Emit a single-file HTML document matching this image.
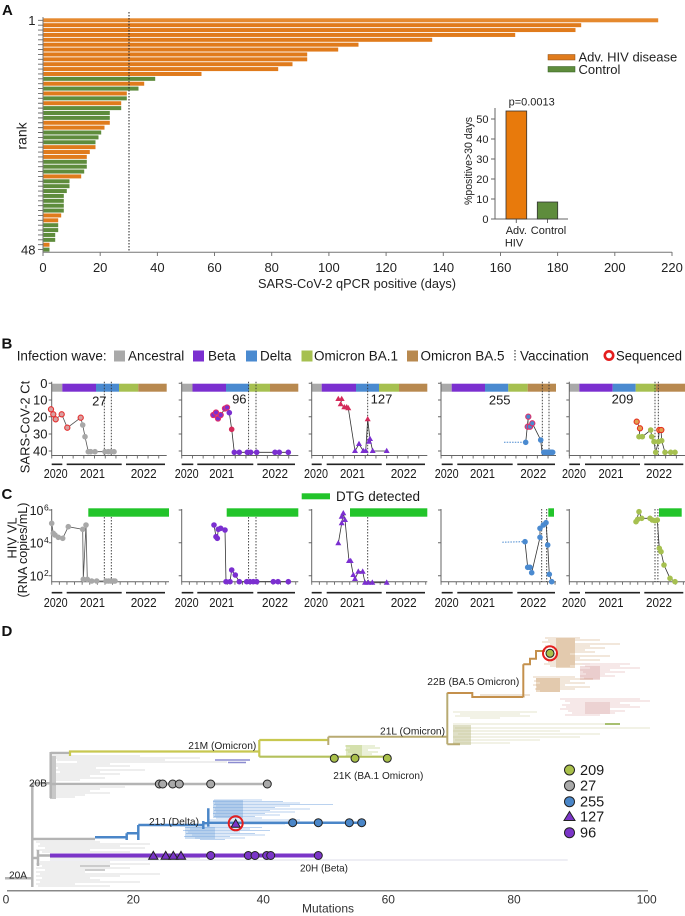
<!DOCTYPE html>
<html><head><meta charset="utf-8">
<style>
html,body{margin:0;padding:0;background:#fff;}
svg{display:block;font-family:"Liberation Sans",Arial,sans-serif;}
</style></head><body>
<svg width="685" height="916" viewBox="0 0 685 916" xmlns="http://www.w3.org/2000/svg">
<defs>
<path id="tri" d="M0 -3.3L3 2H-3Z"/>
<path id="tri2" d="M0 -4.6L4.6 3.2H-4.6Z"/>
</defs>
<rect width="685" height="916" fill="#fff"/>

<!-- ================= PANEL A ================= -->
<text x="2" y="15" font-size="15" font-weight="bold" fill="#111">A</text>
<g>
<rect x="43.5" y="18.3" width="614.7" height="4" fill="#E5892E"/>
<rect x="43.5" y="23.18" width="537.7" height="4" fill="#E07B1C"/>
<rect x="43.5" y="28.06" width="532" height="4" fill="#E07B1C"/>
<rect x="43.5" y="32.94" width="471.7" height="4" fill="#E07B1C"/>
<rect x="43.5" y="37.81" width="388.7" height="4" fill="#E07B1C"/>
<rect x="43.5" y="42.69" width="315" height="4" fill="#E07B1C"/>
<rect x="43.5" y="47.57" width="294.7" height="4" fill="#E07B1C"/>
<rect x="43.5" y="52.45" width="263.7" height="4" fill="#E07B1C"/>
<rect x="43.5" y="57.33" width="263.7" height="4" fill="#E07B1C"/>
<rect x="43.5" y="62.21" width="249" height="4" fill="#E07B1C"/>
<rect x="43.5" y="67.09" width="234.7" height="4" fill="#E07B1C"/>
<rect x="43.5" y="71.97" width="158" height="4" fill="#E07B1C"/>
<rect x="43.5" y="76.84" width="111.7" height="4" fill="#5E8C3C"/>
<rect x="43.5" y="81.72" width="100.7" height="4" fill="#E07B1C"/>
<rect x="43.5" y="86.6" width="95" height="4" fill="#5E8C3C"/>
<rect x="43.5" y="91.48" width="83.3" height="4" fill="#E07B1C"/>
<rect x="43.5" y="96.36" width="83.3" height="4" fill="#5E8C3C"/>
<rect x="43.5" y="101.24" width="77.7" height="4" fill="#E07B1C"/>
<rect x="43.5" y="106.12" width="77.7" height="4" fill="#5E8C3C"/>
<rect x="43.5" y="111" width="66.3" height="4" fill="#5E8C3C"/>
<rect x="43.5" y="115.87" width="66.3" height="4" fill="#5E8C3C"/>
<rect x="43.5" y="120.75" width="66.3" height="4" fill="#E07B1C"/>
<rect x="43.5" y="125.63" width="61" height="4" fill="#E07B1C"/>
<rect x="43.5" y="130.51" width="57.7" height="4" fill="#5E8C3C"/>
<rect x="43.5" y="135.39" width="55" height="4" fill="#5E8C3C"/>
<rect x="43.5" y="140.27" width="52" height="4" fill="#5E8C3C"/>
<rect x="43.5" y="145.15" width="52" height="4" fill="#E07B1C"/>
<rect x="43.5" y="150.03" width="46.3" height="4" fill="#E07B1C"/>
<rect x="43.5" y="154.9" width="43.3" height="4" fill="#E07B1C"/>
<rect x="43.5" y="159.78" width="43.3" height="4" fill="#5E8C3C"/>
<rect x="43.5" y="164.66" width="43.3" height="4" fill="#5E8C3C"/>
<rect x="43.5" y="169.54" width="40.7" height="4" fill="#5E8C3C"/>
<rect x="43.5" y="174.42" width="37.7" height="4" fill="#E07B1C"/>
<rect x="43.5" y="179.3" width="26" height="4" fill="#5E8C3C"/>
<rect x="43.5" y="184.18" width="26" height="4" fill="#5E8C3C"/>
<rect x="43.5" y="189.06" width="23.3" height="4" fill="#5E8C3C"/>
<rect x="43.5" y="193.93" width="20.3" height="4" fill="#5E8C3C"/>
<rect x="43.5" y="198.81" width="20.3" height="4" fill="#5E8C3C"/>
<rect x="43.5" y="203.69" width="20.3" height="4" fill="#5E8C3C"/>
<rect x="43.5" y="208.57" width="20.3" height="4" fill="#5E8C3C"/>
<rect x="43.5" y="213.45" width="17.7" height="4" fill="#E07B1C"/>
<rect x="43.5" y="218.33" width="14.7" height="4" fill="#E07B1C"/>
<rect x="43.5" y="223.21" width="14.7" height="4" fill="#5E8C3C"/>
<rect x="43.5" y="228.09" width="14.7" height="4" fill="#5E8C3C"/>
<rect x="43.5" y="232.96" width="11.7" height="4" fill="#5E8C3C"/>
<rect x="43.5" y="237.84" width="11.7" height="4" fill="#5E8C3C"/>
<rect x="43.5" y="242.72" width="6" height="4" fill="#E07B1C"/>
<rect x="43.5" y="247.6" width="6" height="4" fill="#5E8C3C"/>
</g>
<!-- axes A -->
<line x1="43" y1="17" x2="43" y2="252.3" stroke="#777" stroke-width="1"/>
<line x1="40.5" y1="19.85" x2="40.5" y2="250.2" stroke="#666" stroke-width="5" stroke-dasharray="0.9 3.9787"/>
<line x1="43" y1="252.3" x2="672" y2="252.3" stroke="#777" stroke-width="1"/>
<path d="M43 252V256M100.2 252V256M157.4 252V256M214.5 252V256M271.7 252V256M328.9 252V256M386.1 252V256M443.3 252V256M500.5 252V256M557.6 252V256M614.8 252V256M672 252V256" stroke="#777" stroke-width="1"/>
<line x1="129" y1="12" x2="129" y2="252" stroke="#222" stroke-width="1" stroke-dasharray="1.5 1.5"/>
<g font-size="13" fill="#222" text-anchor="middle">
<text x="43" y="272">0</text><text x="100.2" y="272">20</text><text x="157.4" y="272">40</text><text x="214.5" y="272">60</text><text x="271.7" y="272">80</text><text x="328.9" y="272">100</text><text x="386.1" y="272">120</text><text x="443.3" y="272">140</text><text x="500.5" y="272">160</text><text x="557.6" y="272">180</text><text x="614.8" y="272">200</text><text x="672" y="272">220</text>
</g>
<text x="357" y="288" font-size="13" fill="#222" text-anchor="middle" textLength="198" lengthAdjust="spacingAndGlyphs">SARS-CoV-2 qPCR positive (days)</text>
<text x="35.5" y="25" font-size="13" fill="#222" text-anchor="end">1</text>
<text x="35.5" y="254.4" font-size="13" fill="#222" text-anchor="end">48</text>
<text transform="translate(26.7,136) rotate(-90)" font-size="14" fill="#222" text-anchor="middle">rank</text>
<!-- legend A -->
<rect x="548" y="54.5" width="27" height="5.5" fill="#E07B1C" stroke="#8a4a10" stroke-width="0.5"/>
<rect x="548" y="66.5" width="27" height="5.5" fill="#5E8C3C" stroke="#2f5a1e" stroke-width="0.5"/>
<text x="578.5" y="61.4" font-size="13" fill="#222">Adv. HIV disease</text>
<text x="578.5" y="74" font-size="13" fill="#222">Control</text>
<!-- inset -->
<line x1="495" y1="108" x2="495" y2="219" stroke="#666" stroke-width="1"/>
<line x1="491" y1="219" x2="568" y2="219" stroke="#666" stroke-width="1"/>
<path d="M491 219H495M491 199H495M491 179H495M491 159H495M491 139H495M491 119H495M516.3 219V223M547.5 219V223" stroke="#666" stroke-width="1"/>
<g font-size="11" fill="#222" text-anchor="end">
<text x="488.5" y="223">0</text><text x="488.5" y="203">10</text><text x="488.5" y="183">20</text><text x="488.5" y="163">30</text><text x="488.5" y="143">40</text><text x="488.5" y="123">50</text>
</g>
<rect x="506" y="111" width="20.7" height="108" fill="#E87A0C" stroke="#333" stroke-width="0.8"/>
<rect x="537.3" y="202" width="20.4" height="17" fill="#5E8C3C" stroke="#333" stroke-width="0.8"/>
<g font-size="11" fill="#222" text-anchor="middle">
<text x="531.7" y="105.5">p=0.0013</text>
<text x="516.3" y="234">Adv.</text>
<text x="514" y="246.5">HIV</text>
<text x="548.5" y="234">Control</text>
</g>
<text transform="translate(472,161) rotate(-90)" font-size="11" fill="#222" text-anchor="middle" textLength="88" lengthAdjust="spacingAndGlyphs">%positive&gt;30 days</text>

<!-- ================= PANEL B ================= -->
<text x="1.5" y="348.5" font-size="15" font-weight="bold" fill="#111">B</text>
<g font-size="13.5" fill="#1a1a1a">
<text x="16.7" y="360.5" textLength="90" lengthAdjust="spacingAndGlyphs">Infection wave:</text>
<rect x="114" y="350.5" width="11" height="11" fill="#A9A9A9"/>
<text x="128" y="360.5">Ancestral</text>
<rect x="193" y="350.5" width="11" height="11" fill="#7B2FD0"/>
<text x="208" y="360.5">Beta</text>
<rect x="246" y="350.5" width="11" height="11" fill="#4A8AD0"/>
<text x="260" y="360.5">Delta</text>
<rect x="301.5" y="350.5" width="11" height="11" fill="#A6C050"/>
<text x="314" y="360.5">Omicron BA.1</text>
<rect x="407" y="350.5" width="11" height="11" fill="#B8894F"/>
<text x="420.5" y="360.5">Omicron BA.5</text>
<line x1="515" y1="350" x2="515" y2="362" stroke="#222" stroke-width="1" stroke-dasharray="1.5 1.5"/>
<text x="520" y="360.5">Vaccination</text>
<circle cx="609" cy="355.5" r="4.2" fill="#fff" stroke="#E41E1E" stroke-width="2.6"/>
<text x="616" y="360.5" textLength="66" lengthAdjust="spacingAndGlyphs">Sequenced</text>
</g>
<text transform="translate(29.5,427) rotate(-90)" font-size="13" fill="#1a1a1a" text-anchor="middle">SARS-CoV-2 Ct</text>

<!-- wave bars -->
<g>
<rect x="51.7" y="383.7" width="10.6" height="8" fill="#A9A9A9"/><rect x="62.3" y="383.7" width="33.7" height="8" fill="#7B2FD0"/><rect x="96" y="383.7" width="23" height="8" fill="#4A8AD0"/><rect x="119" y="383.7" width="19.3" height="8" fill="#A6C050"/><rect x="138.3" y="383.7" width="28.4" height="8" fill="#B8894F"/>
<rect x="181.7" y="383.7" width="10.8" height="8" fill="#A9A9A9"/><rect x="192.5" y="383.7" width="33.5" height="8" fill="#7B2FD0"/><rect x="226" y="383.7" width="23.3" height="8" fill="#4A8AD0"/><rect x="249.3" y="383.7" width="20.7" height="8" fill="#A6C050"/><rect x="270" y="383.7" width="28.3" height="8" fill="#B8894F"/>
<rect x="311.7" y="383.7" width="10" height="8" fill="#A9A9A9"/><rect x="321.7" y="383.7" width="34.3" height="8" fill="#7B2FD0"/><rect x="356" y="383.7" width="23" height="8" fill="#4A8AD0"/><rect x="379" y="383.7" width="20" height="8" fill="#A6C050"/><rect x="399" y="383.7" width="28.3" height="8" fill="#B8894F"/>
<rect x="441" y="383.7" width="10.7" height="8" fill="#A9A9A9"/><rect x="451.7" y="383.7" width="33.3" height="8" fill="#7B2FD0"/><rect x="485" y="383.7" width="23.3" height="8" fill="#4A8AD0"/><rect x="508.3" y="383.7" width="19.4" height="8" fill="#A6C050"/><rect x="527.7" y="383.7" width="28.3" height="8" fill="#B8894F"/>
<rect x="569.3" y="383.7" width="10" height="8" fill="#A9A9A9"/><rect x="579.3" y="383.7" width="33.4" height="8" fill="#7B2FD0"/><rect x="612.7" y="383.7" width="23" height="8" fill="#4A8AD0"/><rect x="635.7" y="383.7" width="20.3" height="8" fill="#A6C050"/><rect x="656" y="383.7" width="29" height="8" fill="#B8894F"/>
</g>
<!-- B axes -->
<g stroke="#666" stroke-width="1" fill="none">
<path d="M51.7 381.7V455.5H166.7M48.7 383.3H51.7M48.7 400H51.7M48.7 416.7H51.7M48.7 434H51.7M48.7 451H51.7"/>
<path d="M181.7 381.7V455.5H298.3M178.7 383.3H181.7M178.7 400H181.7M178.7 416.7H181.7M178.7 434H181.7M178.7 451H181.7"/>
<path d="M311.7 381.7V455.5H427.3M308.7 383.3H311.7M308.7 400H311.7M308.7 416.7H311.7M308.7 434H311.7M308.7 451H311.7"/>
<path d="M441 381.7V455.5H556M438 383.3H441M438 400H441M438 416.7H441M438 434H441M438 451H441"/>
<path d="M569.3 381.7V455.5H685M566.3 383.3H569.3M566.3 400H569.3M566.3 416.7H569.3M566.3 434H569.3M566.3 451H569.3"/>
</g>
<g stroke="#666" stroke-width="3" stroke-dasharray="0.9 9.8">
<line x1="51.3" y1="457" x2="167" y2="457"/>
<line x1="181.3" y1="457" x2="298.5" y2="457"/>
<line x1="311.3" y1="457" x2="427.5" y2="457"/>
<line x1="440.6" y1="457" x2="556.2" y2="457"/>
<line x1="568.9" y1="457" x2="685" y2="457"/>
</g>
<g font-size="13" fill="#1a1a1a" text-anchor="end">
<text x="47.5" y="388">0</text><text x="47.5" y="404.7">10</text><text x="47.5" y="421.4">20</text><text x="47.5" y="438.7">30</text><text x="47.5" y="455.7">40</text>
</g>
<!-- year bars B -->
<g stroke="#222" stroke-width="1.6">
<path d="M51.7 464.3H62.3M66.7 464.3H121.7M126 464.3H165M181.7 464.3H193.3M197.3 464.3H253.3M257.3 464.3H295M311.7 464.3H321.7M326.7 464.3H381.7M386 464.3H425M441.7 464.3H452.7M457.3 464.3H512.7M517.3 464.3H555M569.3 464.3H580M585 464.3H640M644.3 464.3H683.3"/>
</g>
<g font-size="12.5" fill="#1a1a1a" text-anchor="middle">
<text x="55.7" y="478" textLength="24" lengthAdjust="spacingAndGlyphs">2020</text><text x="92.5" y="478" textLength="25" lengthAdjust="spacingAndGlyphs">2021</text><text x="143.7" y="478" textLength="26" lengthAdjust="spacingAndGlyphs">2022</text>
<text x="186.7" y="478" textLength="24" lengthAdjust="spacingAndGlyphs">2020</text><text x="221.7" y="478" textLength="25" lengthAdjust="spacingAndGlyphs">2021</text><text x="275" y="478" textLength="26" lengthAdjust="spacingAndGlyphs">2022</text>
<text x="316" y="478" textLength="24" lengthAdjust="spacingAndGlyphs">2020</text><text x="352.5" y="478" textLength="25" lengthAdjust="spacingAndGlyphs">2021</text><text x="403.7" y="478" textLength="26" lengthAdjust="spacingAndGlyphs">2022</text>
<text x="446.7" y="478" textLength="24" lengthAdjust="spacingAndGlyphs">2020</text><text x="482.5" y="478" textLength="25" lengthAdjust="spacingAndGlyphs">2021</text><text x="533.3" y="478" textLength="26" lengthAdjust="spacingAndGlyphs">2022</text>
<text x="574" y="478" textLength="24" lengthAdjust="spacingAndGlyphs">2020</text><text x="611" y="478" textLength="25" lengthAdjust="spacingAndGlyphs">2021</text><text x="659" y="478" textLength="26" lengthAdjust="spacingAndGlyphs">2022</text>
</g>
<!-- vaccine lines B -->
<g stroke="#333" stroke-width="0.9" stroke-dasharray="1.5 1.5">
<path d="M104.3 381.7V455.5M111.3 381.7V455.5M248.6 381.7V455.5M256 381.7V455.5M367.7 381.7V455.5M542.3 381.7V455.5M549 381.7V455.5M655 381.7V455.5M658.3 381.7V455.5"/>
</g>
<g font-size="13" fill="#1a1a1a" text-anchor="middle">
<text x="99.3" y="405.7">27</text><text x="239.3" y="403.3">96</text><text x="381.5" y="403.3">127</text><text x="499.7" y="404.3">255</text><text x="622.5" y="403.3">209</text>
</g>
<!-- B P1 data -->
<path d="M51 409.3L53.3 414.3L55.7 419.3L61.7 414.3L67.3 427.7L80.7 417.7L82.7 425L85 436.7L88.3 451.7H114" fill="none" stroke="#555" stroke-width="0.8"/>
<g fill="#A8A8A8">
<circle cx="82.7" cy="425" r="2.8"/><circle cx="85" cy="436.7" r="2.8"/><circle cx="88.3" cy="451.7" r="2.8"/><circle cx="90.7" cy="451.7" r="2.8"/><circle cx="95" cy="451.7" r="2.8"/><circle cx="105" cy="451.7" r="2.8"/><circle cx="108.3" cy="451.7" r="2.8"/><circle cx="111" cy="451.7" r="2.8"/><circle cx="114" cy="451.7" r="2.8"/>
</g>
<g fill="#D9A0A0" stroke="#E53030" stroke-width="1.1">
<circle cx="51" cy="409.3" r="2.6"/><circle cx="53.3" cy="414.3" r="2.6"/><circle cx="55.7" cy="419.3" r="2.6"/><circle cx="61.7" cy="414.3" r="2.6"/><circle cx="67.3" cy="427.7" r="2.6"/><circle cx="80.7" cy="417.7" r="2.6"/>
</g>
<!-- B P2 -->
<path d="M213.3 415L216 412.5L218 418.5L220.7 415L225 408.5L227 407.5L229.3 412.7L231.7 429.3L234.3 452.3H288.3" fill="none" stroke="#333" stroke-width="0.8"/>
<g fill="#7B2FD0">
<circle cx="229.3" cy="412.7" r="2.8"/><circle cx="234.3" cy="452.3" r="2.8"/><circle cx="239.3" cy="452.3" r="2.8"/><circle cx="247.3" cy="452.3" r="2.8"/><circle cx="250.7" cy="452.3" r="2.8"/><circle cx="256.7" cy="452.3" r="2.8"/><circle cx="275" cy="452.3" r="2.8"/><circle cx="279.3" cy="452.3" r="2.8"/><circle cx="288.3" cy="452.3" r="2.8"/>
</g>
<circle cx="231.7" cy="429.3" r="2.8" fill="#D42A5A"/>
<g fill="#7B2FD0" stroke="#E0306A" stroke-width="1.1">
<circle cx="213.3" cy="415" r="2.6"/><circle cx="216" cy="412.5" r="2.6"/><circle cx="218" cy="418.5" r="2.6"/><circle cx="220.7" cy="415" r="2.6"/><circle cx="225" cy="408.5" r="2.6"/><circle cx="227" cy="407.5" r="2.6"/>
</g>
<!-- B P3 -->
<path d="M338.3 399L341.7 399L340.7 404.3L344.3 407.3L348.3 408.3L355 451L359 444L363.3 451L365.7 451L367.7 419.3L370 439L372.7 451H386.7" fill="none" stroke="#333" stroke-width="0.8"/>
<g fill="#D42A5A">
<use href="#tri" x="338.3" y="399"/><use href="#tri" x="341.7" y="399"/><use href="#tri" x="340.7" y="404.3"/><use href="#tri" x="344.3" y="407.3"/><use href="#tri" x="346.7" y="407.3"/><use href="#tri" x="348.3" y="408.3"/><use href="#tri" x="367.7" y="419.3"/>
</g>
<g fill="#7B2FD0">
<use href="#tri" x="355" y="451"/><use href="#tri" x="359" y="444"/><use href="#tri" x="363.3" y="451"/><use href="#tri" x="365.7" y="451"/><use href="#tri" x="370" y="439"/><use href="#tri" x="369" y="441.7"/><use href="#tri" x="372.7" y="451"/><use href="#tri" x="386.7" y="451"/>
</g>
<!-- B P4 -->
<line x1="504" y1="442.3" x2="525.7" y2="442.3" stroke="#4A8AD0" stroke-width="1" stroke-dasharray="1.5 1.2"/>
<path d="M525.7 442.3L528.3 416.7L527.7 426.7L530 426.7L532.3 423.3L540.7 440L542 452.3H555" fill="none" stroke="#333" stroke-width="0.8"/>
<g fill="#4A8AD0">
<circle cx="525.7" cy="442.3" r="2.8"/><circle cx="540.7" cy="440" r="2.8"/>
<rect x="541" y="449.5" width="14.5" height="5.6" rx="2.8"/>
</g>
<g fill="#4A8AD0" stroke="#E0306A" stroke-width="1.1">
<circle cx="527.7" cy="426.7" r="2.6"/><circle cx="530" cy="426.7" r="2.6"/><circle cx="532.3" cy="423.3" r="2.6"/><circle cx="528.3" cy="416.7" r="2.6"/>
</g>
<!-- B P5 -->
<path d="M636.7 421.7L640 428.3L639 436.7L642.3 436.7L650.7 430L651.7 436.7L654 441.7L655.7 452.3L658.3 441.7L659.3 430L661 430L661.7 440.7L665 452.3H675" fill="none" stroke="#333" stroke-width="0.8"/>
<g fill="#A6C050">
<circle cx="639" cy="436.7" r="2.8"/><circle cx="642.3" cy="436.7" r="2.8"/><circle cx="650.7" cy="430" r="2.8"/><circle cx="651.7" cy="436.7" r="2.8"/><circle cx="654" cy="441.7" r="2.8"/><circle cx="655.7" cy="452.3" r="2.8"/><circle cx="658.3" cy="441.7" r="2.8"/><circle cx="661.7" cy="440.7" r="2.8"/><circle cx="665" cy="452.3" r="2.8"/><circle cx="670.7" cy="452.3" r="2.8"/><circle cx="675" cy="452.3" r="2.8"/>
</g>
<g fill="#E3A050" stroke="#E53020" stroke-width="1.1">
<circle cx="636.7" cy="421.7" r="2.6"/><circle cx="640" cy="428.3" r="2.6"/><circle cx="659.3" cy="430" r="2.6"/><circle cx="661.3" cy="430" r="2.6"/>
</g>

<!-- ================= PANEL C ================= -->
<text x="1.5" y="499" font-size="15" font-weight="bold" fill="#111">C</text>
<rect x="301.7" y="493.3" width="28.3" height="6" fill="#22C42A"/>
<text x="336" y="501" font-size="13.5" fill="#1a1a1a">DTG detected</text>
<text transform="translate(16.5,538) rotate(-90)" font-size="13" fill="#1a1a1a" text-anchor="middle">HIV VL</text>
<text transform="translate(27,550) rotate(-90)" font-size="12.5" fill="#1a1a1a" text-anchor="middle" textLength="95" lengthAdjust="spacingAndGlyphs">(RNA copies/mL)</text>
<g fill="#22C42A">
<rect x="88.3" y="508.3" width="80.7" height="8.4"/><rect x="226.7" y="508.3" width="71.6" height="8.4"/><rect x="350" y="508.3" width="77.3" height="8.4"/><rect x="548.3" y="508.3" width="5.7" height="8.4"/><rect x="659" y="508.3" width="22.7" height="8.4"/>
</g>
<g stroke="#666" stroke-width="1" fill="none">
<path d="M51.7 509V581.7H169M48.7 510H51.7M48.7 542.7H51.7M48.7 575.7H51.7"/>
<path d="M181.7 509V581.7H298.3M178.7 510H181.7M178.7 542.7H181.7M178.7 575.7H181.7"/>
<path d="M311.7 509V581.7H427.3M308.7 510H311.7M308.7 542.7H311.7M308.7 575.7H311.7"/>
<path d="M441 509V581.7H556M438 510H441M438 542.7H441M438 575.7H441"/>
<path d="M569.3 509V581.7H685M566.3 510H569.3M566.3 542.7H569.3M566.3 575.7H569.3"/>
</g>
<g stroke="#666" stroke-width="3" stroke-dasharray="0.9 6.7">
<line x1="51.3" y1="583.2" x2="167" y2="583.2"/>
<line x1="181.3" y1="583.2" x2="298.5" y2="583.2"/>
<line x1="311.3" y1="583.2" x2="427.5" y2="583.2"/>
<line x1="440.6" y1="583.2" x2="556.2" y2="583.2"/>
<line x1="568.9" y1="583.2" x2="685" y2="583.2"/>
</g>
<g fill="#1a1a1a">
<text x="43.5" y="515" font-size="12.5" text-anchor="end">10</text><text x="44" y="510.5" font-size="8.5">6</text>
<text x="43.5" y="547.7" font-size="12.5" text-anchor="end">10</text><text x="44" y="543.2" font-size="8.5">4</text>
<text x="43.5" y="580.7" font-size="12.5" text-anchor="end">10</text><text x="44" y="576.2" font-size="8.5">2</text>
</g>
<g stroke="#222" stroke-width="1.6">
<path d="M51.7 592.7H62.3M66.7 592.7H121.7M126 592.7H165M181.7 592.7H193.3M197.3 592.7H253.3M257.3 592.7H295M311.7 592.7H321.7M326.7 592.7H381.7M386 592.7H425M441.7 592.7H452.7M457.3 592.7H512.7M517.3 592.7H555M569.3 592.7H580M585 592.7H640M644.3 592.7H683.3"/>
</g>
<g font-size="12.5" fill="#1a1a1a" text-anchor="middle">
<text x="55.7" y="607" textLength="24" lengthAdjust="spacingAndGlyphs">2020</text><text x="92.5" y="607" textLength="25" lengthAdjust="spacingAndGlyphs">2021</text><text x="143.7" y="607" textLength="26" lengthAdjust="spacingAndGlyphs">2022</text>
<text x="186.7" y="607" textLength="24" lengthAdjust="spacingAndGlyphs">2020</text><text x="221.7" y="607" textLength="25" lengthAdjust="spacingAndGlyphs">2021</text><text x="275" y="607" textLength="26" lengthAdjust="spacingAndGlyphs">2022</text>
<text x="316" y="607" textLength="24" lengthAdjust="spacingAndGlyphs">2020</text><text x="352.5" y="607" textLength="25" lengthAdjust="spacingAndGlyphs">2021</text><text x="403.7" y="607" textLength="26" lengthAdjust="spacingAndGlyphs">2022</text>
<text x="446.7" y="607" textLength="24" lengthAdjust="spacingAndGlyphs">2020</text><text x="482.5" y="607" textLength="25" lengthAdjust="spacingAndGlyphs">2021</text><text x="533.3" y="607" textLength="26" lengthAdjust="spacingAndGlyphs">2022</text>
<text x="574" y="607" textLength="24" lengthAdjust="spacingAndGlyphs">2020</text><text x="611" y="607" textLength="25" lengthAdjust="spacingAndGlyphs">2021</text><text x="659" y="607" textLength="26" lengthAdjust="spacingAndGlyphs">2022</text>
</g>
<g stroke="#333" stroke-width="0.9" stroke-dasharray="1.5 1.5">
<path d="M104.3 517V581.7M111.3 517V581.7M248.6 517V581.7M256 517V581.7M367.7 517V581.7M541.7 509V581.7M546.7 509V581.7M655 509V581.7M657.9 509V581.7"/>
</g>
<!-- C P1 -->
<path d="M51.7 523.3L53.3 533.3L55 535L58.3 537.3L62.7 538.3L68.3 526.7L82.7 529.3L83.3 579.3L86 525L87.3 579.3L91.7 581H115" fill="none" stroke="#555" stroke-width="0.8"/>
<g fill="#A8A8A8">
<circle cx="51.7" cy="523.3" r="2.8"/><circle cx="53.3" cy="533.3" r="2.8"/><circle cx="55" cy="535" r="2.8"/><circle cx="58.3" cy="537.3" r="2.8"/><circle cx="62.7" cy="538.3" r="2.8"/><circle cx="68.3" cy="526.7" r="2.8"/><circle cx="82.7" cy="529.3" r="2.8"/><circle cx="83.3" cy="579.3" r="2.8"/><circle cx="86" cy="525" r="2.8"/><circle cx="87.3" cy="579.3" r="2.8"/><circle cx="91.7" cy="581" r="2.8"/><circle cx="96.7" cy="581" r="2.8"/><circle cx="106" cy="581" r="2.8"/><circle cx="108.5" cy="581" r="2.8"/><circle cx="111" cy="581" r="2.8"/><circle cx="113.5" cy="581" r="2.8"/><circle cx="115" cy="581" r="2.8"/>
</g>
<!-- C P2 -->
<path d="M214 525L216 536.7L217.3 538.3L218.3 529.3L220.7 528.3L225 530L226 581.7L230 581.7L231.7 570L235.3 575L239.3 581.7H288.3" fill="none" stroke="#333" stroke-width="0.8"/>
<g fill="#7B2FD0">
<circle cx="214" cy="525" r="2.8"/><circle cx="216" cy="536.7" r="2.8"/><circle cx="217.3" cy="538.3" r="2.8"/><circle cx="218.3" cy="529.3" r="2.8"/><circle cx="220.7" cy="528.3" r="2.8"/><circle cx="225" cy="530" r="2.8"/><circle cx="226" cy="581.7" r="2.8"/><circle cx="230" cy="581.7" r="2.8"/><circle cx="231.7" cy="570" r="2.8"/><circle cx="235.3" cy="575" r="2.8"/><circle cx="239.3" cy="581.7" r="2.8"/><circle cx="246.7" cy="581.7" r="2.8"/><circle cx="250" cy="581.7" r="2.8"/><circle cx="253.3" cy="581.7" r="2.8"/><circle cx="256.7" cy="581.7" r="2.8"/><circle cx="273.3" cy="581.7" r="2.8"/><circle cx="278" cy="581.7" r="2.8"/><circle cx="288.3" cy="581.7" r="2.8"/>
</g>
<!-- C P3 -->
<path d="M338.3 543.3L341.7 523.3L343.3 513.3L345 520L349 561L350.7 561L353.3 575L355 579L358.3 571.7L362.7 571.7L365 582.7H386.7" fill="none" stroke="#333" stroke-width="0.8"/>
<g fill="#7B2FD0">
<use href="#tri" x="338.3" y="543.3"/><use href="#tri" x="341.7" y="523.3"/><use href="#tri" x="341.7" y="516.7"/><use href="#tri" x="343.3" y="513.3"/><use href="#tri" x="345" y="520"/><use href="#tri" x="349" y="561"/><use href="#tri" x="350.7" y="561"/><use href="#tri" x="353.3" y="575"/><use href="#tri" x="355" y="579"/><use href="#tri" x="358.3" y="571.7"/><use href="#tri" x="362.7" y="571.7"/><use href="#tri" x="365" y="582.7"/><use href="#tri" x="368.3" y="582.7"/><use href="#tri" x="372.3" y="582.7"/><use href="#tri" x="386.7" y="582.7"/>
</g>
<!-- C P4 -->
<line x1="502.3" y1="542.2" x2="525" y2="541.7" stroke="#4A8AD0" stroke-width="1" stroke-dasharray="1.5 1.2"/>
<path d="M525 541.7L527.7 567.3L530 567.3L531.7 572.7L540 537.3L540 528.3L543.3 525L546 522.7L547.7 545L549.3 574.3L551.7 581.7" fill="none" stroke="#333" stroke-width="0.8"/>
<g fill="#4A8AD0">
<circle cx="525" cy="541.7" r="2.8"/><circle cx="527.7" cy="567.3" r="2.8"/><circle cx="530" cy="567.3" r="2.8"/><circle cx="531.7" cy="572.7" r="2.8"/><circle cx="540" cy="537.3" r="2.8"/><circle cx="540" cy="528.3" r="2.8"/><circle cx="543.3" cy="525" r="2.8"/><circle cx="546" cy="522.7" r="2.8"/><circle cx="547.7" cy="545" r="2.8"/><circle cx="549.3" cy="574.3" r="2.8"/><circle cx="551.7" cy="581.7" r="2.8"/>
</g>
<!-- C P5 -->
<path d="M636 521.7L639 511.7L641.7 518.3L650 518.3L652.3 520L655 520.7L657.3 520L659.3 548.3L661 551.7L664 565L670 578.3L675 581.7" fill="none" stroke="#333" stroke-width="0.8"/>
<g fill="#A6C050">
<circle cx="636" cy="521.7" r="2.8"/><circle cx="637.7" cy="519.3" r="2.8"/><circle cx="639" cy="511.7" r="2.8"/><circle cx="641.7" cy="518.3" r="2.8"/><circle cx="650" cy="518.3" r="2.8"/><circle cx="652.3" cy="520" r="2.8"/><circle cx="655" cy="520.7" r="2.8"/><circle cx="657.3" cy="520" r="2.8"/><circle cx="659.3" cy="548.3" r="2.8"/><circle cx="661" cy="551.7" r="2.8"/><circle cx="664" cy="565" r="2.8"/><circle cx="670" cy="578.3" r="2.8"/><circle cx="675" cy="581.7" r="2.8"/>
</g>

<!-- ================= PANEL D ================= -->
<text x="1.5" y="636" font-size="15" font-weight="bold" fill="#111">D</text>
<!-- faint clusters -->
<path d="M52 756H140M55 758H200M57 760H165M77 762H227M55 764H110M55 766H130M58 768H96M55 770H145M60 772H100M55 774H120M55 776H90M55 778H105M52 780H80M52 787H125M52 789H100M52 791H90M52 793H110M52 795H85M52 797H75" stroke="#d4d4d4" stroke-width="0.8" fill="none"/>
<rect x="50" y="756" width="6" height="43" fill="#c8c8c8"/>
<path d="M215 760H250M228 762.5H246" stroke="#8c8cd0" stroke-width="1.4"/>
<path d="M36 842H100M40 844H150M38 846H120M45 848H145M36 850H90M42 852H130M50 858H200M40 862H110M36 864H150M42 866H95M36 868H130M45 870H100M36 872H85M40 874H160M36 876H120M42 878H90M36 880H100M40 882H140M36 884H75M38 886H110" stroke="#d4d4d4" stroke-width="0.8" fill="none"/>
<path d="M80 866H110M85 870H105" stroke="#bcbcbc" stroke-width="1.4"/>
<line x1="50" y1="860" x2="567.7" y2="860" stroke="#dcdce8" stroke-width="0.9"/>
<!-- delta cluster -->
<path d="M214 800H262M213 801.5H283M215 803H300M214 804.5H333M216 806H290M213 807.5H275M215 809H310M214 810.5H270M216 812H295M213 813.5H265M215 815H280M214 816.5H255M216 818H262M208 820H300M210 824H285M180 826H235M185 827.5H262M190 829H250M183 830.5H270M188 832H240M186 833.5H255M192 835H265M184 836.5H230M195 838H245M200 839.5H225" stroke="#a4c4ea" stroke-width="0.8" fill="none"/>
<rect x="213" y="800" width="30" height="18" fill="#5b95d5" opacity="0.35"/>
<rect x="185" y="827" width="30" height="12" fill="#5b95d5" opacity="0.3"/>
<!-- 21K cluster -->
<path d="M345 746H375M350 748H380M345 750H368M348 752H378M352 754H372M345 756H360" stroke="#c8d898" stroke-width="0.8"/>
<rect x="346" y="745" width="16" height="12" fill="#b8cc78" opacity="0.45"/>
<!-- BA.5 clusters -->
<path d="M545 638H580M548 640H600M542 642H575M550 644H620M545 646H590M552 648H605M544 650H585M556 652H595M548 654H570M552 656H610M546 658H580M550 660H600M548 662H575M544 664H590M550 666H570M533 677H575M536 679H593M534 681H570M540 683H585M533 685H565M537 687H590M535 689H575M540 691H560" stroke="#dcc0a0" stroke-width="0.8"/>
<rect x="556" y="638" width="19" height="30" fill="#c8955a" opacity="0.35"/>
<rect x="536" y="678" width="24" height="14" fill="#c8955a" opacity="0.35"/>
<path d="M582 664H630M585 666H620M590 668H640M580 670H610M583 672H625M586 674H605M580 676H615M584 678H600M560 699H640M565 701H650M570 703H620M562 705H630M566 707H640M560 709H610M568 711H625M572 713H615M565 715H600" stroke="#e6c4c4" stroke-width="0.8"/>
<rect x="580" y="666" width="20" height="14" fill="#d09090" opacity="0.3"/>
<rect x="585" y="702" width="25" height="12" fill="#d8a0a0" opacity="0.3"/>
<path d="M480 695H530M490 697H525" stroke="#decab0" stroke-width="1"/>
<path d="M453 712H537M460 714H520M455 716H530M470 718H500M453 724H620M455 728H650M453 731H560M458 734H600M453 737H580M455 740H540M453 743H510" stroke="#dcdcbc" stroke-width="0.7"/>
<rect x="453" y="725" width="18" height="20" fill="#b8b880" opacity="0.45"/>
<path d="M605 724H620" stroke="#a8c070" stroke-width="2"/>
<!-- main gray branches -->
<g stroke="#b4b4b4" stroke-width="2.5" fill="none">
<path d="M5 878.3H32.3M32.3 783.3V887M32.3 783.3H50.7M50.7 752V798M50.7 753H70M32.3 839H95M32.3 858H38M38 850V866M38 855.5H50M50.7 784H267.3"/>
</g>
<!-- 21M / omicron -->
<path d="M70 756V751.5H259.3M259.3 740V756.7M259.3 740H328.3" stroke="#C8C850" stroke-width="2.2" fill="none"/>
<path d="M259.3 756.7H387.3" stroke="#B4C05C" stroke-width="2.2" fill="none"/>
<path d="M328.3 736.7V745M328.3 736.7H447.3M447.3 692.7V744.3M447.3 744.3H460" stroke="#B8AA72" stroke-width="2" fill="none"/>
<path d="M447.3 693H472.3V697H523.3M523.3 664.3V697M523.3 664.3H530V658.7H536V651H545" stroke="#C4904C" stroke-width="2" fill="none"/>
<!-- delta -->
<path d="M95 837.3H126.7M126.7 833.3V840M126.7 833.3H138.3M138.3 825V840M138.3 825H203.3M203.3 821V829M203.3 823.3H208.3M208.3 808.3V826.7M208.3 822.7H361.7" stroke="#4A86C8" stroke-width="2.5" fill="none"/>
<!-- beta -->
<path d="M50 855.5H318.3" stroke="#7B35C8" stroke-width="4" fill="none"/>
<!-- points -->
<g stroke="#222" stroke-width="1">
<circle cx="159.3" cy="784" r="4" fill="#A9A9A9"/><circle cx="162.7" cy="784" r="4" fill="#A9A9A9"/><circle cx="172.7" cy="784" r="4" fill="#A9A9A9"/><circle cx="179.3" cy="784" r="4" fill="#A9A9A9"/><circle cx="210.7" cy="784" r="4" fill="#A9A9A9"/><circle cx="267.3" cy="784" r="4" fill="#A9A9A9"/>
<circle cx="334.3" cy="758.3" r="4" fill="#A9C04A"/><circle cx="355" cy="758.3" r="4" fill="#A9C04A"/><circle cx="387.3" cy="758.3" r="4" fill="#A9C04A"/>
<circle cx="292.7" cy="822.7" r="4" fill="#4A86C8"/><circle cx="318.3" cy="822.7" r="4" fill="#4A86C8"/><circle cx="349.3" cy="822.7" r="4" fill="#4A86C8"/><circle cx="361.7" cy="822.7" r="4" fill="#4A86C8"/>
<circle cx="210.7" cy="855.5" r="4" fill="#7B35C8"/><circle cx="248.3" cy="855.5" r="4" fill="#7B35C8"/><circle cx="255" cy="855.5" r="4" fill="#7B35C8"/><circle cx="266.7" cy="855.5" r="4" fill="#7B35C8"/><circle cx="270.7" cy="855.5" r="4" fill="#7B35C8"/><circle cx="318.3" cy="855.5" r="4" fill="#7B35C8"/>
<use href="#tri2" x="153.3" y="856" fill="#7B35C8"/><use href="#tri2" x="165.7" y="856" fill="#7B35C8"/><use href="#tri2" x="173.3" y="856" fill="#7B35C8"/><use href="#tri2" x="181" y="856" fill="#7B35C8"/>
<use href="#tri2" x="235.7" y="824" fill="#7B35C8"/>
<circle cx="550" cy="653.3" r="4" fill="#A9C04A"/>
</g>
<circle cx="235.7" cy="823.3" r="7" fill="none" stroke="#E41E1E" stroke-width="2"/>
<circle cx="550" cy="653.3" r="7" fill="none" stroke="#E41E1E" stroke-width="2"/>
<!-- tree labels -->
<g font-size="10.5" fill="#222">
<text x="188.3" y="748.8" textLength="68" lengthAdjust="spacingAndGlyphs">21M (Omicron)</text>
<text x="29" y="786.5" textLength="18" lengthAdjust="spacingAndGlyphs">20B</text>
<text x="9" y="878.3" textLength="18" lengthAdjust="spacingAndGlyphs">20A</text>
<text x="149" y="825" textLength="50" lengthAdjust="spacingAndGlyphs">21J (Delta)</text>
<text x="300" y="871.5" textLength="48" lengthAdjust="spacingAndGlyphs">20H (Beta)</text>
<text x="333.3" y="779" textLength="90" lengthAdjust="spacingAndGlyphs">21K (BA.1 Omicron)</text>
<text x="380" y="734.5" textLength="65" lengthAdjust="spacingAndGlyphs">21L (Omicron)</text>
<text x="427.3" y="685" textLength="92" lengthAdjust="spacingAndGlyphs">22B (BA.5 Omicron)</text>
</g>
<!-- legend D -->
<g stroke="#222" stroke-width="1">
<circle cx="569.5" cy="770" r="5" fill="#A9C04A"/>
<circle cx="569.5" cy="785.7" r="5" fill="#A9A9A9"/>
<circle cx="569.5" cy="801.7" r="5" fill="#4A86C8"/>
<path d="M569.5 811.5L575 820.5H564Z" fill="#7B35C8"/>
<circle cx="569.5" cy="832.7" r="5" fill="#7B35C8"/>
</g>
<g font-size="14.5" fill="#1a1a1a">
<text x="580" y="775">209</text><text x="580" y="790.7">27</text><text x="580" y="806.7">255</text><text x="580" y="821.7">127</text><text x="580" y="837.7">96</text>
</g>
<!-- D axis -->
<line x1="7" y1="890.7" x2="648" y2="890.7" stroke="#888" stroke-width="1.5"/>
<g font-size="12" fill="#333" text-anchor="middle">
<text x="6" y="903.5">0</text><text x="133.3" y="903.5">20</text><text x="263.3" y="903.5">40</text><text x="388.3" y="903.5">60</text><text x="514" y="903.5">80</text><text x="646.7" y="903.5">100</text>
<text x="328" y="912.5">Mutations</text>
</g>
</svg>
</body></html>
